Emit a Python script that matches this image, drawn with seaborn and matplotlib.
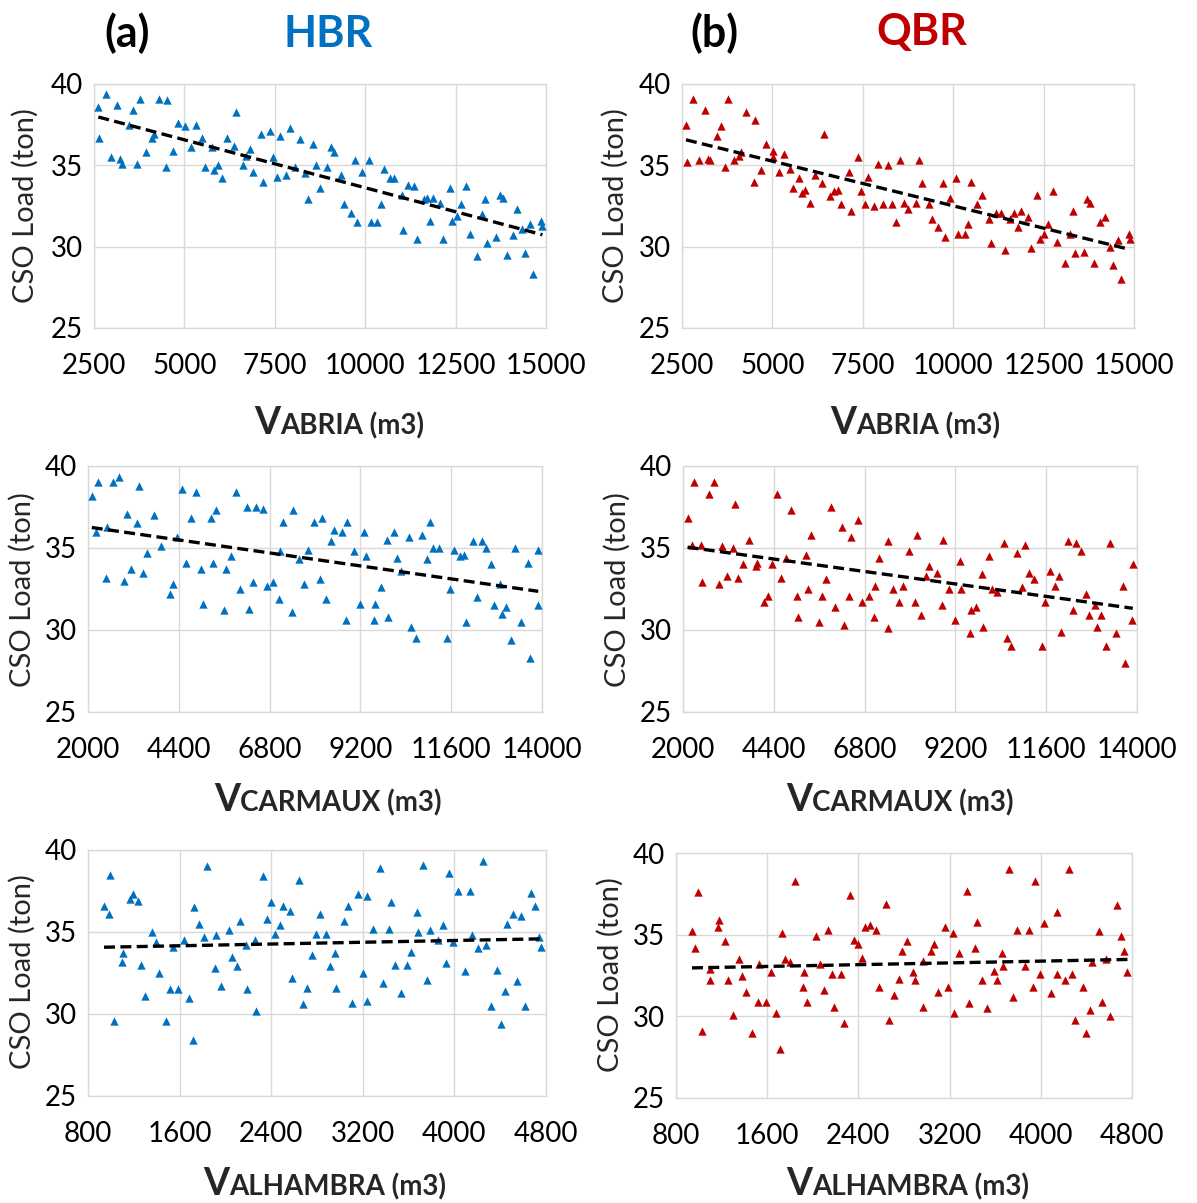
import numpy as np
import pandas as pd
import matplotlib
matplotlib.use("Agg")
import matplotlib.pyplot as plt
import matplotlib.transforms as mtrans
import seaborn as sns

# ---------------- data ----------------
abria_ticks = [2500, 5000, 7500, 10000, 12500, 15000]
carmaux_ticks = [2000, 4400, 6800, 9200, 11600, 14000]
alhambra_ticks = [800, 1600, 2400, 3200, 4000, 4800]
load_ticks = [25, 30, 35, 40]

abria_hbr_x = [2620, 2640, 2820, 2970, 3130, 3230, 3280, 3480, 3590, 3690, 3780, 3950, 4100, 4160, 4290, 4480, 4510, 4690, 4810, 5010, 5180, 5330, 5490, 5560, 5770, 5820, 5920, 6050, 6180, 6370, 6420, 6610, 6710, 6820, 6910, 7120, 7160, 7380, 7450, 7550, 7630, 7810, 7910, 8060, 8190, 8330, 8430, 8560, 8630, 8750, 8950, 9060, 9150, 9320, 9420, 9600, 9730, 9780, 9910, 10100, 10160, 10320, 10450, 10520, 10680, 10800, 11020, 11050, 11170, 11350, 11420, 11630, 11700, 11790, 11880, 12080, 12160, 12340, 12390, 12530, 12650, 12780, 12900, 13100, 13240, 13320, 13380, 13620, 13720, 13800, 13920, 14080, 14210, 14350, 14430, 14570, 14630, 14870, 14900]
abria_hbr_y = [38.6, 36.7, 39.4, 35.5, 38.7, 35.4, 35.1, 37.5, 38.4, 35.1, 39.1, 35.8, 36.7, 36.9, 39.1, 34.9, 39.0, 35.9, 37.6, 37.4, 36.1, 37.5, 36.7, 34.9, 36.1, 34.7, 35.0, 34.2, 36.7, 36.2, 38.3, 35.0, 35.6, 36.0, 34.6, 36.9, 34.0, 37.1, 35.5, 34.3, 36.8, 34.4, 37.3, 34.9, 36.6, 34.5, 32.9, 36.3, 35.0, 33.6, 34.9, 36.1, 35.8, 34.4, 32.6, 32.1, 35.3, 31.5, 34.6, 35.3, 31.5, 31.5, 32.6, 34.8, 34.2, 34.2, 33.2, 31.0, 33.8, 33.7, 30.5, 32.9, 33.0, 31.6, 33.0, 32.7, 30.5, 33.6, 31.6, 31.9, 32.6, 33.7, 30.8, 29.4, 32.0, 32.9, 30.2, 30.6, 33.2, 33.0, 29.5, 30.7, 32.3, 31.1, 29.6, 31.4, 28.3, 31.6, 31.3]

abria_qbr_x = [2610, 2640, 2810, 2970, 3130, 3220, 3280, 3480, 3580, 3690, 3760, 3950, 4090, 4130, 4280, 4480, 4510, 4680, 4810, 5010, 5010, 5170, 5320, 5490, 5560, 5730, 5820, 5910, 6040, 6170, 6380, 6420, 6600, 6710, 6810, 6910, 7120, 7160, 7370, 7440, 7550, 7630, 7810, 7910, 8060, 8190, 8320, 8410, 8540, 8630, 8750, 8970, 9060, 9130, 9320, 9410, 9590, 9730, 9780, 9910, 10080, 10140, 10320, 10410, 10490, 10670, 10790, 11000, 11050, 11190, 11330, 11420, 11570, 11680, 11790, 11870, 12070, 12150, 12330, 12390, 12510, 12630, 12760, 12860, 13080, 13230, 13300, 13380, 13610, 13700, 13790, 13890, 14070, 14200, 14330, 14420, 14570, 14630, 14860, 14890]
abria_qbr_y = [37.5, 35.2, 39.1, 35.3, 38.4, 35.4, 35.3, 36.8, 37.4, 34.9, 39.1, 35.3, 35.6, 35.8, 38.3, 34.0, 37.8, 34.7, 36.3, 35.9, 35.5, 34.6, 35.7, 34.8, 33.6, 34.2, 33.3, 33.5, 32.7, 34.4, 33.9, 36.9, 33.1, 33.4, 33.5, 32.6, 34.6, 32.2, 35.5, 33.4, 32.6, 34.3, 32.5, 35.1, 32.6, 35.0, 32.6, 31.5, 35.3, 32.7, 32.3, 32.7, 35.3, 33.9, 32.6, 31.7, 31.2, 33.9, 30.6, 33.0, 34.2, 30.8, 30.8, 31.4, 34.0, 32.6, 33.2, 31.7, 30.2, 32.1, 32.1, 29.8, 31.7, 32.1, 31.2, 32.2, 31.8, 29.9, 33.2, 30.5, 30.8, 31.4, 33.4, 30.3, 29.0, 30.8, 32.2, 29.6, 29.7, 32.9, 32.7, 29.0, 31.5, 31.8, 30.0, 28.9, 30.4, 28.0, 30.8, 30.5]

carmaux_hbr_x = [2100, 2220, 2270, 2470, 2510, 2660, 2810, 2940, 3020, 3130, 3300, 3350, 3450, 3570, 3750, 3920, 4160, 4240, 4340, 4490, 4580, 4710, 4850, 4990, 5040, 5250, 5310, 5390, 5590, 5660, 5790, 5900, 6030, 6210, 6250, 6370, 6450, 6620, 6720, 6900, 7040, 7080, 7160, 7400, 7410, 7580, 7700, 7810, 7970, 8120, 8180, 8290, 8420, 8490, 8720, 8830, 8850, 9030, 9180, 9300, 9340, 9560, 9590, 9740, 9890, 9940, 10080, 10180, 10280, 10480, 10540, 10670, 10820, 10970, 11040, 11130, 11270, 11480, 11570, 11680, 11820, 11930, 12000, 12170, 12290, 12410, 12520, 12640, 12730, 12890, 12930, 13060, 13180, 13280, 13450, 13620, 13670, 13890, 13900]
carmaux_hbr_y = [38.2, 36.0, 39.0, 33.2, 36.3, 39.0, 39.3, 33.0, 37.1, 33.7, 36.5, 38.8, 33.5, 34.7, 37.0, 35.1, 32.2, 32.8, 35.7, 38.6, 34.1, 36.8, 38.4, 33.7, 31.6, 36.8, 34.1, 37.3, 31.2, 33.7, 34.5, 38.4, 32.5, 37.5, 31.3, 32.9, 37.5, 37.4, 32.7, 32.9, 31.9, 34.8, 36.6, 31.1, 37.3, 34.3, 32.8, 34.9, 36.6, 33.1, 36.8, 31.9, 35.4, 36.1, 36.0, 30.6, 36.6, 34.8, 31.6, 36.0, 34.5, 30.6, 31.6, 32.6, 35.5, 30.8, 36.0, 34.4, 33.6, 35.7, 30.2, 29.5, 35.8, 34.3, 36.6, 35.0, 35.0, 29.5, 32.5, 34.9, 34.5, 34.6, 30.5, 35.4, 32.0, 35.4, 35.0, 34.0, 31.5, 32.8, 31.0, 31.4, 29.4, 35.0, 30.5, 34.1, 28.3, 31.5, 34.9]

carmaux_qbr_x = [2120, 2240, 2280, 2480, 2490, 2680, 2830, 2940, 3020, 3150, 3320, 3370, 3460, 3590, 3750, 3920, 3960, 4150, 4250, 4340, 4490, 4580, 4710, 4860, 5010, 5050, 5250, 5380, 5300, 5600, 5670, 5790, 5920, 6020, 6210, 6260, 6390, 6450, 6630, 6720, 6910, 7050, 7080, 7170, 7410, 7410, 7560, 7710, 7810, 7980, 8120, 8180, 8300, 8420, 8500, 8710, 8840, 8860, 9030, 9180, 9310, 9360, 9580, 9600, 9750, 9890, 9940, 10090, 10180, 10290, 10490, 10560, 10670, 10830, 10950, 11050, 11150, 11270, 11490, 11580, 11690, 11820, 11930, 12000, 12180, 12300, 12390, 12520, 12640, 12740, 12890, 12940, 13060, 13180, 13290, 13450, 13620, 13670, 13870, 13890]
carmaux_qbr_y = [36.8, 35.2, 39.0, 35.2, 32.9, 38.3, 39.0, 32.8, 35.1, 33.3, 35.0, 37.7, 33.2, 34.0, 35.5, 33.9, 34.1, 31.7, 32.1, 34.0, 38.3, 33.2, 34.4, 37.3, 32.1, 30.8, 34.6, 35.8, 32.5, 30.5, 32.1, 33.1, 37.5, 31.4, 36.3, 30.3, 32.1, 35.7, 36.7, 31.7, 32.1, 30.8, 32.7, 34.4, 30.1, 35.4, 32.5, 31.7, 32.7, 34.8, 31.7, 35.8, 30.9, 33.3, 33.9, 33.5, 31.5, 35.5, 32.5, 30.6, 34.2, 32.5, 29.8, 31.2, 31.4, 33.4, 30.2, 34.5, 32.5, 32.3, 35.3, 29.5, 29.0, 34.7, 32.6, 35.2, 33.5, 33.1, 29.0, 31.7, 33.6, 32.7, 33.3, 29.9, 35.4, 31.2, 35.3, 34.8, 32.2, 30.9, 31.5, 30.2, 30.9, 29.0, 35.3, 29.8, 32.7, 28.0, 30.6, 34.0]

alhambra_hbr_x = [940, 980, 990, 1030, 1100, 1110, 1170, 1190, 1240, 1260, 1300, 1360, 1390, 1420, 1480, 1520, 1540, 1590, 1640, 1680, 1720, 1730, 1770, 1810, 1840, 1910, 1920, 1960, 2030, 2060, 2100, 2130, 2180, 2190, 2260, 2270, 2330, 2360, 2400, 2430, 2480, 2500, 2560, 2580, 2640, 2680, 2710, 2760, 2790, 2830, 2880, 2910, 2960, 2970, 3040, 3070, 3110, 3160, 3200, 3240, 3240, 3290, 3350, 3380, 3430, 3450, 3480, 3530, 3590, 3620, 3670, 3680, 3730, 3760, 3790, 3860, 3900, 3930, 3950, 3990, 4030, 4090, 4140, 4150, 4210, 4250, 4280, 4320, 4370, 4410, 4440, 4460, 4510, 4550, 4580, 4620, 4670, 4700, 4740, 4760]
alhambra_hbr_y = [36.6, 36.1, 38.5, 29.6, 33.2, 33.7, 37.0, 37.3, 36.9, 33.0, 31.1, 35.0, 34.4, 32.5, 29.6, 31.5, 34.1, 31.5, 34.5, 31.0, 28.4, 36.5, 35.5, 34.7, 39.0, 32.8, 34.8, 31.7, 35.1, 33.5, 32.9, 35.7, 34.2, 31.5, 34.5, 30.2, 38.4, 35.8, 36.8, 34.9, 35.4, 36.6, 36.3, 32.2, 38.2, 30.6, 31.6, 33.6, 34.9, 36.1, 34.9, 32.9, 33.7, 31.6, 35.7, 36.6, 30.7, 37.3, 32.5, 37.2, 30.8, 35.2, 38.9, 31.9, 35.2, 36.8, 33.0, 31.3, 33.0, 33.8, 36.2, 35.0, 39.1, 32.1, 35.1, 34.5, 35.4, 33.1, 38.6, 34.4, 37.5, 32.6, 37.5, 34.8, 34.0, 39.3, 34.2, 30.5, 32.7, 29.4, 31.4, 35.5, 36.1, 32.0, 36.0, 30.5, 37.4, 36.6, 34.7, 34.1]

alhambra_qbr_x = [940, 970, 990, 1030, 1100, 1100, 1170, 1180, 1230, 1260, 1300, 1350, 1380, 1410, 1470, 1520, 1530, 1590, 1630, 1680, 1710, 1730, 1760, 1800, 1840, 1910, 1920, 1950, 2030, 2060, 2100, 2130, 2170, 2190, 2250, 2270, 2330, 2360, 2400, 2430, 2460, 2500, 2550, 2580, 2640, 2670, 2710, 2760, 2780, 2830, 2880, 2900, 2970, 2970, 3040, 3060, 3100, 3160, 3190, 3230, 3240, 3280, 3350, 3370, 3420, 3440, 3480, 3530, 3590, 3620, 3660, 3670, 3720, 3760, 3790, 3860, 3900, 3930, 3950, 3990, 4030, 4090, 4140, 4140, 4210, 4250, 4270, 4300, 4370, 4400, 4430, 4450, 4510, 4540, 4570, 4610, 4670, 4700, 4730, 4760]
alhambra_qbr_y = [35.2, 34.2, 37.6, 29.1, 32.9, 32.2, 35.5, 35.9, 34.6, 32.2, 30.1, 33.5, 32.5, 31.5, 29.0, 30.9, 33.2, 30.9, 32.7, 30.2, 28.0, 35.1, 33.5, 33.3, 38.3, 31.8, 32.7, 30.9, 34.9, 33.2, 31.6, 35.3, 32.6, 30.6, 32.6, 29.6, 37.4, 34.7, 34.4, 33.6, 35.5, 35.6, 35.3, 31.8, 36.9, 29.8, 31.3, 32.3, 34.0, 34.6, 32.7, 32.2, 33.4, 30.6, 34.0, 34.4, 31.5, 35.5, 31.8, 35.1, 30.2, 33.9, 37.7, 30.8, 34.2, 35.8, 32.2, 30.5, 32.8, 32.2, 33.9, 33.1, 39.0, 31.2, 35.3, 33.1, 35.3, 31.8, 38.3, 32.6, 35.7, 31.4, 36.4, 32.6, 32.2, 39.0, 32.6, 29.8, 31.8, 29.0, 30.4, 33.3, 35.2, 30.9, 33.5, 30.0, 36.8, 34.9, 34.0, 32.7]

station_names = ["ABRIA", "CARMAUX", "ALHAMBRA"]
group_names = ["HBR", "QBR"]
panel_letters = ["(a)", "(b)"]
y_label = "CSO Load (ton)"

# ---------------- style ----------------
sns.set_theme(style="white")
plt.rcParams['font.family'] = ['Lato', 'DejaVu Sans']

W, H = 1197, 1203
fig = plt.figure(figsize=(W / 100, H / 100), dpi=100)

BLUE = "#0070C0"
RED = "#C00000"
GRID = "#d9d9d9"

# pixel boxes (left, top, right, bottom) of each axes
boxes = {
    (0, 0): (94, 84, 546, 328), (0, 1): (682, 84, 1134, 328),
    (1, 0): (88, 466, 542, 712), (1, 1): (683, 466, 1137, 712),
    (2, 0): (88, 850, 546, 1096), (2, 1): (676, 853, 1132, 1098),
}
ylabel_pos = {(0, 0): (25, 206), (0, 1): (615, 206), (1, 0): (22, 590),
              (1, 1): (617, 590), (2, 0): (22, 972), (2, 1): (610, 975)}
xlabel_pos = {(0, 0): (339, 434), (0, 1): (915, 434), (1, 0): (328, 811),
              (1, 1): (900, 811), (2, 0): (325, 1195), (2, 1): (908, 1195)}

data = {
    (0, 0): (abria_hbr_x, abria_hbr_y), (0, 1): (abria_qbr_x, abria_qbr_y),
    (1, 0): (carmaux_hbr_x, carmaux_hbr_y), (1, 1): (carmaux_qbr_x, carmaux_qbr_y),
    (2, 0): (alhambra_hbr_x, alhambra_hbr_y), (2, 1): (alhambra_qbr_x, alhambra_qbr_y),
}
ticks = [abria_ticks, carmaux_ticks, alhambra_ticks]
colors = [BLUE, RED]

for (r, c), (l, t, rr, b) in boxes.items():
    ax = fig.add_axes([l / W, 1 - b / H, (rr - l) / W, (b - t) / H])
    xs, ys = data[(r, c)]
    df = pd.DataFrame({"x": xs, "y": ys})
    sns.regplot(data=df, x="x", y="y", ax=ax, ci=None, marker="^",
                color=colors[c],
                scatter_kws=dict(s=36, linewidths=0, color=colors[c],
                                 alpha=1, zorder=3),
                line_kws=dict(color="black", linestyle=(0, (3.3, 1.6)),
                              linewidth=2.4, zorder=4))
    tk = ticks[r]
    ax.set_xlim(tk[0], tk[-1])
    ax.set_ylim(load_ticks[0], load_ticks[-1])
    ax.set_xticks(tk)
    ax.set_xticklabels([str(v) for v in tk])
    ax.set_yticks(load_ticks)
    ax.set_yticklabels([str(v) for v in load_ticks])
    ax.set_xlabel("")
    ax.set_ylabel("")
    ax.grid(True, color=GRID, linewidth=1)
    ax.set_axisbelow(True)
    for sp in ax.spines.values():
        sp.set_visible(True)
        sp.set_color(GRID)
        sp.set_linewidth(1)
    ax.tick_params(axis="both", length=0, labelsize=20, colors="black")
    ax.tick_params(axis="x", pad=18)
    ax.tick_params(axis="y", pad=8)
    yx, yy = ylabel_pos[(r, c)]
    fig.text(yx / W, 1 - yy / H, y_label, rotation=90, ha="center",
             va="center", fontsize=21)

# titles
ident = mtrans.IdentityTransform()
fig.text(127, H - 47, panel_letters[0], transform=ident, ha="center", va="baseline",
         fontsize=31, fontweight="bold", color="black")
fig.text(328, H - 47, group_names[0], transform=ident, ha="center", va="baseline",
         fontsize=31, fontweight="bold", color=BLUE)
fig.text(714, H - 47, panel_letters[1], transform=ident, ha="center", va="baseline",
         fontsize=31, fontweight="bold", color="black")
fig.text(922, H - 45, group_names[1], transform=ident, ha="center", va="baseline",
         fontsize=31, fontweight="bold", color=RED)

# composite x labels: big "V" + smaller station name
renderer = fig.canvas.get_renderer()
for (r, c), (cx, by) in xlabel_pos.items():
    t1 = fig.text(0, H - by, "V", transform=ident, ha="left", va="baseline",
                  fontsize=27, fontweight="bold")
    t2 = fig.text(0, H - by, station_names[r] + " (m3)", transform=ident,
                  ha="left", va="baseline", fontsize=20, fontweight="bold")
    w1 = t1.get_window_extent(renderer).width
    w2 = t2.get_window_extent(renderer).width
    x0 = cx - (w1 + w2) / 2
    t1.set_x(x0)
    t2.set_x(x0 + w1)

fig.savefig("out.png", dpi=100)
